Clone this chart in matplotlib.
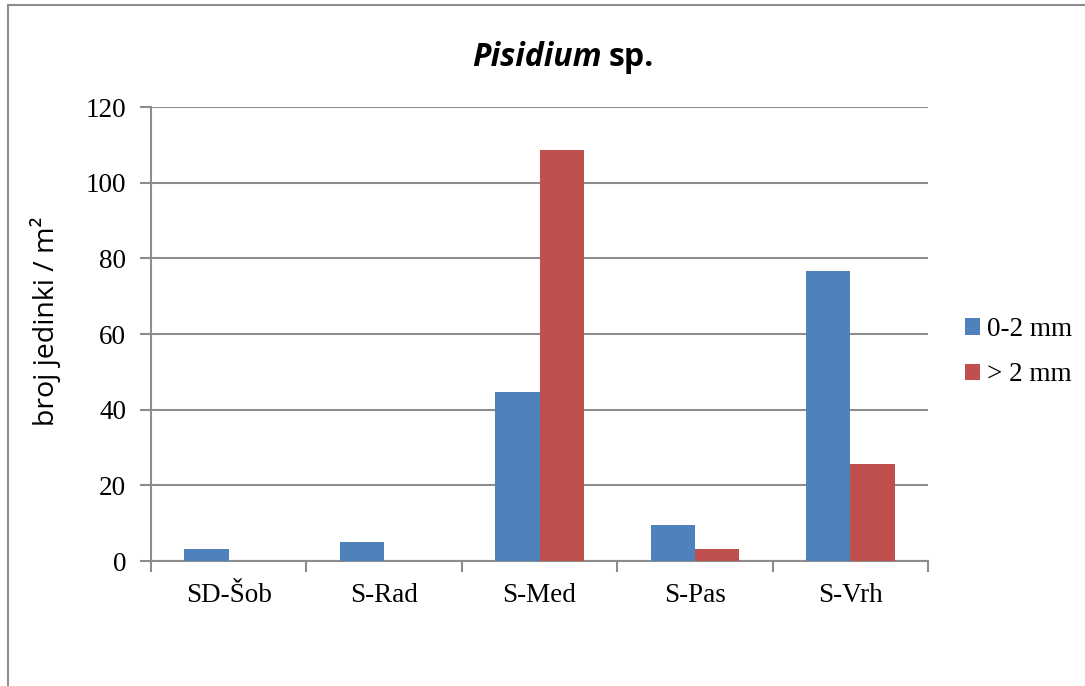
import matplotlib.pyplot as plt
from matplotlib.lines import Line2D
import numpy as np

# data
sites = ["SD-Šob", "S-Rad", "S-Med", "S-Pas", "S-Vrh"]
small = [3.3, 4.9, 44.7, 9.5, 76.7]   # 0-2 mm
large = [0.0, 0.0, 108.7, 3.2, 25.6]  # > 2 mm
series_names = ["0-2 mm", "> 2 mm"]
yticks = [0, 20, 40, 60, 80, 100, 120]

blue = "#4F81BD"
red = "#C0504D"
grid_col = "#8C8C8C"

fig = plt.figure(figsize=(10.85, 6.86), dpi=100)
ax = fig.add_axes([0.1392, 0.1822, 0.8553 - 0.1392, 0.844 - 0.1822])

x = np.arange(len(sites))
w = 0.2857
ax.bar(x - w / 2, small, w, color=blue, label=series_names[0], zorder=3)
ax.bar(x + w / 2, large, w, color=red, label=series_names[1], zorder=3)

ax.set_xlim(-0.5, len(sites) - 0.5)
ax.set_ylim(0, 120)
ax.set_yticks(yticks)
ax.yaxis.grid(True, color=grid_col, linewidth=1.5, zorder=0)

# category ticks at boundaries, labels centred
ax.set_xticks(np.arange(-0.5, len(sites)), minor=False)
ax.set_xticklabels([])
ax.set_xticks(x, minor=True)
ax.set_xticklabels(sites, minor=True, family="Liberation Serif", fontsize=19.5)
ax.tick_params(axis="x", which="major", length=8, width=1.5, color=grid_col)
ax.tick_params(axis="x", which="minor", length=0, pad=16)
ax.tick_params(axis="y", length=8, width=1.5, color=grid_col, pad=10)
for lab in ax.get_yticklabels():
    lab.set_family("Liberation Serif")
    lab.set_fontsize(19.5)

for side in ["top", "right"]:
    ax.spines[side].set_visible(False)
for side in ["left", "bottom"]:
    ax.spines[side].set_color(grid_col)
    ax.spines[side].set_linewidth(1.5)

ax.set_ylabel("broj jedinki / m²", family="Open Sans", fontsize=20.5)
ax.yaxis.set_label_coords(46 / 1085, 0.532, transform=fig.transFigure)
ax.yaxis.label.set_va("center")

fig.text(0.5545, 0.916, "Pisidium", family="Open Sans", fontsize=23,
         fontweight="bold", style="italic", ha="right", va="center")
fig.text(0.561, 0.916, "sp.", family="Open Sans", fontsize=23,
         fontweight="bold", ha="left", va="center")

leg = ax.legend(loc="center left", bbox_to_anchor=(1.034, 0.46), frameon=False,
                prop={"family": "Liberation Serif", "size": 19.5},
                handlelength=0.55, handleheight=0.55, handletextpad=0.25,
                labelspacing=0.75, borderaxespad=0)

# outer chart border (left and top visible)
fig.add_artist(Line2D([0.0074, 0.0074], [0, 0.9927], transform=fig.transFigure,
                      color=grid_col, linewidth=1.5))
fig.add_artist(Line2D([0.0074, 1], [0.9927, 0.9927], transform=fig.transFigure,
                      color=grid_col, linewidth=1.5))

fig.savefig("out.png", dpi=100)
